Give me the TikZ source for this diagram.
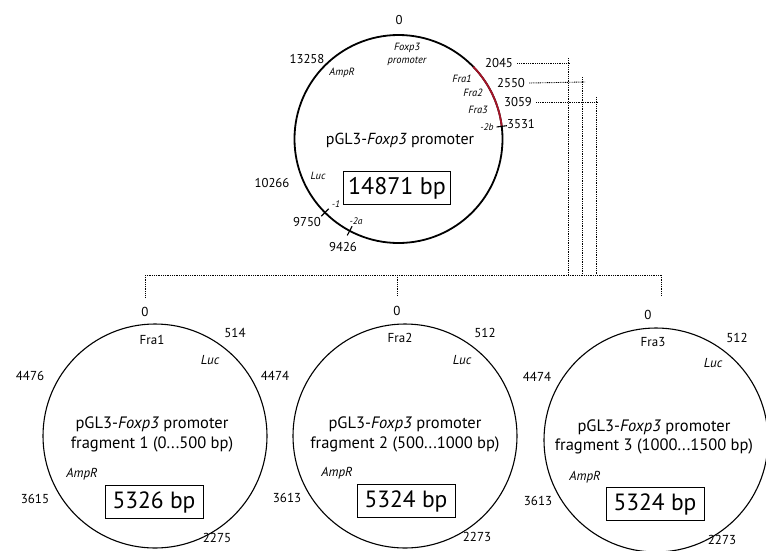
\documentclass[tikz,border=0pt]{standalone}
\usepackage{fontspec}
\setmainfont{PT Sans}
\usetikzlibrary{calc}
\definecolor{fragred}{RGB}{165,20,40}
\begin{document}
\begin{tikzpicture}[x=1pt,y=-1pt,
  num/.style={font=\fontsize{12.8}{14}\selectfont, inner sep=0pt},
  bnum/.style={font=\fontsize{13}{14}\selectfont, inner sep=0pt},
  lab/.style={font=\fontsize{10.5}{12.5}\selectfont\itshape, inner sep=0pt},
  slab/.style={font=\fontsize{9.5}{11}\selectfont\itshape, inner sep=0pt},
  blab/.style={font=\fontsize{13}{15}\selectfont\itshape, inner sep=0pt},
  frag/.style={font=\fontsize{13}{15}\selectfont, inner sep=0pt},
  title/.style={font=\fontsize{16.5}{19.5}\selectfont, inner sep=0pt},
  bpbox/.style={draw, line width=0.9pt, font=\fontsize{23.5}{26}\selectfont, inner sep=0pt, minimum width=98pt, minimum height=33pt},
  plasmid/.style={circle, draw, line width=1.1pt, minimum size=224pt, inner sep=0pt, outer sep=0pt},
  dotline/.style={line width=0.9pt, dash pattern=on 0.9pt off 0.9pt},
  tick/.style={line width=1.1pt}]
\useasboundingbox (0,0) rectangle (766,550);

% ---------- top plasmid ----------
\node[circle, draw, line width=1.8pt, minimum size=208pt, inner sep=0pt, outer sep=0pt] (T) at (398.5,139) {};
\draw[fragred, line width=1.8pt] (T.44) arc[start angle=44, end angle=7, radius=104pt];
\draw[tick] ($(T.center)!0.95!(T.7)$) -- ($(T.center)!1.05!(T.7)$);
\draw[tick] ($(T.center)!0.95!(T.225.6)$) -- ($(T.center)!1.05!(T.225.6)$);
\draw[tick] ($(T.center)!0.95!(T.242.9)$) -- ($(T.center)!1.05!(T.242.9)$);

\node[num] (t0) at (399,20) {0};
\node[lab, align=center] (tfox) at (407,54.5) {Foxp3\\promoter};
\node[num] (t13258) at (307,59) {13258};
\node[lab] (tamp) at (342,73) {AmpR};
\node[num] (t2045) at (499,63) {2045};
\node[lab] (tfra1) at (462,79) {Fra1};
\node[num] (t2550) at (511,83) {2550};
\node[lab] (tfra2) at (473,93) {Fra2};
\node[num] (t3059) at (518,102) {3059};
\node[lab] (tfra3) at (478,110) {Fra3};
\node[slab] (t2b) at (487,127) {-2b};
\node[num] (t3531) at (521,124) {3531};
\node[title, font=\fontsize{16}{19}\selectfont] (ttitle) at (400,140) {pGL3-\textit{Foxp3} promoter};
\node[lab] (tluc) at (318,176) {Luc};
\node[num] (t10266) at (272,183) {10266};
\node[bpbox, minimum width=107pt, font=\fontsize{24}{27}\selectfont] (tbox) at (397,188) {14871 bp};
\node[slab] (tm1) at (336,204) {-1};
\node[num] (t9750) at (307,222) {9750};
\node[slab] (t2a) at (356,221) {-2a};
\node[num] (t9426) at (343,247) {9426};

% ---------- dotted connectors ----------
\coordinate (h1) at (570,63);
\coordinate (h2) at (585,82);
\coordinate (h3) at (598,102);
\coordinate (v1t) at (568,58);
\coordinate (v2t) at (582,77);
\coordinate (v3t) at (596,97);
\coordinate (v1b) at (568,275);
\coordinate (v2b) at (582,275);
\coordinate (v3b) at (596,275);
\coordinate (busL) at (145,275);
\coordinate (busM) at (397,275);
\coordinate (busR) at (661,275);

\draw[dotline] ([xshift=4pt]t2045.east) -- (h1);
\draw[dotline] ([xshift=4pt]t2550.east) -- (h2);
\draw[dotline] ([xshift=4pt]t3059.east) -- (h3);
\draw[dotline] (v1t) -- (v1b);
\draw[dotline] (v2t) -- (v2b);
\draw[dotline] (v3t) -- (v3b);
\draw[dotline] (busL) -- (busR);

% ---------- bottom plasmids ----------
\node[plasmid] (C1) at (155,436) {};
\node[plasmid] (C2) at (405,436) {};
\node[plasmid] (C3) at (656,440) {};

% circle 1
\node[bnum] (a0) at (145,312) {0};
\node[frag] (afra) at (152,340) {Fra1};
\node[bnum] (a514) at (235,333) {514};
\node[blab] (aluc) at (210,360) {Luc};
\node[bnum] (a4476) at (30,376) {4476};
\node[title, align=center] (atitle) at (152,434.5) {pGL3-\textit{Foxp3} promoter\\fragment 1 (0...500 bp)};
\node[blab] (aamp) at (82,474) {AmpR};
\node[bnum] (a3615) at (35,499) {3615};
\node[bpbox] (abox) at (154,502) {5326 bp};
\node[bnum] (a2275) at (217,538) {2275};

% circle 2
\node[bnum] (b0) at (397,311) {0};
\node[frag] (bfra) at (400,338) {Fra2};
\node[bnum] (b512) at (485,333) {512};
\node[blab] (bluc) at (462,360) {Luc};
\node[bnum] (b4474) at (275,376) {4474};
\node[title, align=center] (btitle) at (405,434.5) {pGL3-\textit{Foxp3} promoter\\fragment 2 (500...1000 bp)};
\node[blab] (bamp) at (337,473) {AmpR};
\node[bnum] (b3613) at (287,498) {3613};
\node[bpbox] (bbox) at (406,501) {5324 bp};
\node[bnum] (b2273) at (477,537) {2273};

% circle 3
\node[bnum] (c0) at (648,315) {0};
\node[frag] (cfra) at (653,342) {Fra3};
\node[bnum] (c512) at (737,338) {512};
\node[blab] (cluc) at (713,363) {Luc};
\node[bnum] (c4474) at (537,377) {4474};
\node[title, align=center] (ctitle) at (654,437) {pGL3-\textit{Foxp3} promoter\\fragment 3 (1000...1500 bp)};
\node[blab] (camp) at (585,477) {AmpR};
\node[bnum] (c3613) at (538,501) {3613};
\node[bpbox] (cbox) at (655,504) {5324 bp};
\node[bnum] (c2273) at (722,540) {2273};

% drops from the bus
\draw[dotline] (busL) -- ([yshift=10pt]a0.north -| busL);
\draw[dotline] (busM) -- ([yshift=10pt]b0.north -| busM);
\draw[dotline] (busR) -- ([yshift=14pt]c0.north -| busR);
\end{tikzpicture}
\end{document}
